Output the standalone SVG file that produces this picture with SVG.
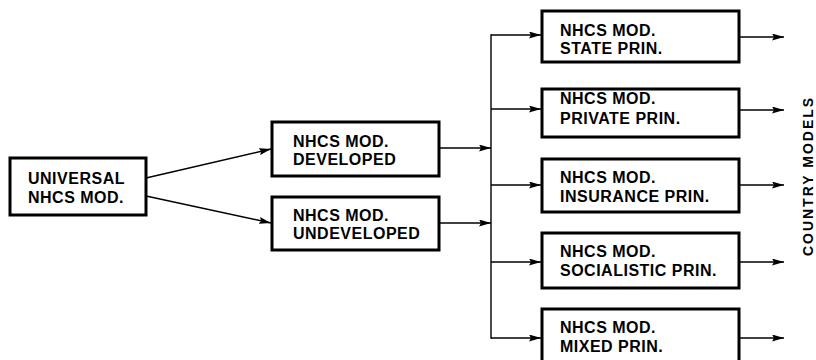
<svg xmlns="http://www.w3.org/2000/svg" width="816" height="360" viewBox="0 0 816 360">
<style>
.box{fill:#fff;stroke:#000;stroke-width:3}
.t{font-family:"Liberation Sans",Arial,sans-serif;font-weight:bold;font-size:16px;letter-spacing:0.5px;fill:#000}
.c{fill:none;stroke:#000;stroke-width:1.4}
.ca{fill:none;stroke:#000;stroke-width:1.4;marker-end:url(#ah)}
</style>
<defs>
<marker id="ah" markerUnits="userSpaceOnUse" viewBox="0 0 12 7" refX="12" refY="3.5" markerWidth="12" markerHeight="7" orient="auto">
<path d="M0,0 L12,3.5 L0,7 L2,3.5 z" fill="#000"/>
</marker>
</defs>
<rect width="816" height="360" fill="#fff"/>
<g id="connectors">
<line class="ca" x1="146" y1="178" x2="271" y2="149"/>
<line class="ca" x1="146" y1="196" x2="271" y2="223"/>
<line class="ca" x1="439" y1="148" x2="491" y2="148"/>
<line class="ca" x1="439" y1="223" x2="491" y2="223"/>
<line class="c" x1="491" y1="34.3" x2="491" y2="338.7"/>
<line class="ca" x1="491" y1="35" x2="541" y2="35"/>
<line class="ca" x1="491" y1="109" x2="541" y2="109"/>
<line class="ca" x1="491" y1="185" x2="541" y2="185"/>
<line class="ca" x1="491" y1="262" x2="541" y2="262"/>
<line class="ca" x1="491" y1="338" x2="541" y2="338"/>
<line class="ca" x1="740" y1="37" x2="784" y2="37"/>
<line class="ca" x1="740" y1="110" x2="784" y2="110"/>
<line class="ca" x1="740" y1="185" x2="784" y2="185"/>
<line class="ca" x1="740" y1="262" x2="784" y2="262"/>
<line class="ca" x1="740" y1="338" x2="784" y2="338"/>
</g>
<g id="universal">
<rect class="box" x="10" y="158" width="136" height="57"/>
<text class="t" x="28" y="184">UNIVERSAL</text>
<text class="t" x="28" y="203">NHCS MOD.</text>
</g>
<g id="developed">
<rect class="box" x="272" y="122" width="167" height="54"/>
<text class="t" x="293" y="147">NHCS MOD.</text>
<text class="t" x="293" y="165">DEVELOPED</text>
</g>
<g id="undeveloped">
<rect class="box" x="272" y="197" width="167" height="53"/>
<text class="t" x="293" y="221">NHCS MOD.</text>
<text class="t" x="293" y="239">UNDEVELOPED</text>
</g>
<g id="state">
<rect class="box" x="542" y="11" width="197" height="51"/>
<text class="t" x="560" y="36">NHCS MOD.</text>
<text class="t" x="560" y="54">STATE PRIN.</text>
</g>
<g id="private">
<rect class="box" x="542" y="89" width="197" height="48"/>
<text class="t" x="560" y="104">NHCS MOD.</text>
<text class="t" x="560" y="124">PRIVATE PRIN.</text>
</g>
<g id="insurance">
<rect class="box" x="542" y="159" width="197" height="53"/>
<text class="t" x="560" y="183">NHCS MOD.</text>
<text class="t" x="560" y="202">INSURANCE PRIN.</text>
</g>
<g id="socialistic">
<rect class="box" x="542" y="233" width="197" height="55"/>
<text class="t" x="560" y="257">NHCS MOD.</text>
<text class="t" x="560" y="276">SOCIALISTIC PRIN.</text>
</g>
<g id="mixed">
<rect class="box" x="542" y="309" width="197" height="58"/>
<text class="t" x="560" y="333">NHCS MOD.</text>
<text class="t" x="560" y="352">MIXED PRIN.</text>
</g>
<g id="country-models">
<text class="t" transform="translate(813,176) rotate(-90)" text-anchor="middle" style="font-size:14px;letter-spacing:2px">COUNTRY MODELS</text>
</g>
</svg>
